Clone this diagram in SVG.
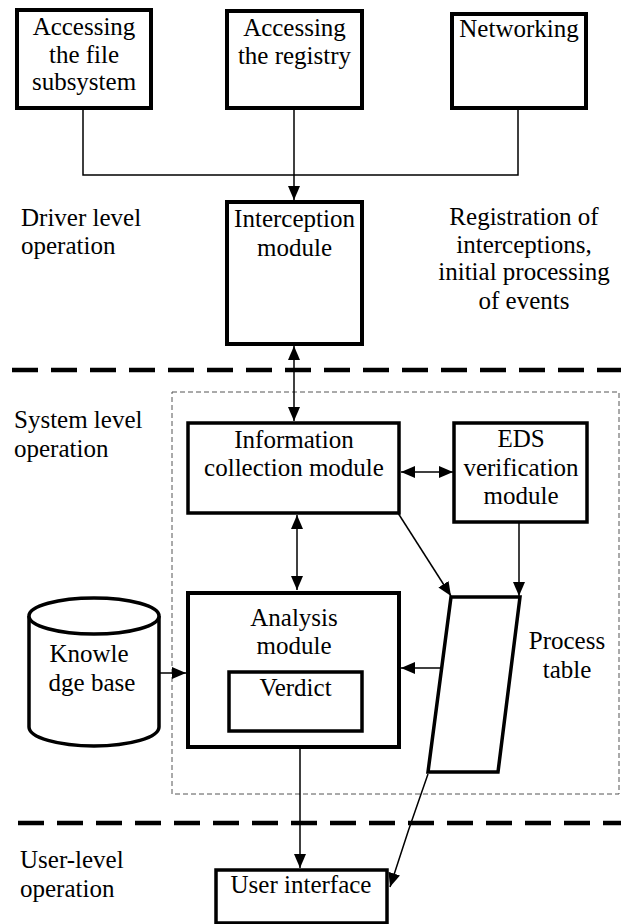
<svg xmlns="http://www.w3.org/2000/svg" width="621" height="924" viewBox="0 0 621 924">
<style>
text{font-family:"Liberation Serif","Times New Roman",serif;font-size:25px;fill:#000}
.c{text-anchor:middle}
.box{fill:#fff;stroke:#000;stroke-width:4}
.box3{fill:#fff;stroke:#000;stroke-width:3.5}
.ln{fill:none;stroke:#000;stroke-width:1.5}
.sep{stroke:#000;stroke-width:4.5;stroke-dasharray:26 13}
</style>
<defs>
<marker id="ah" markerUnits="userSpaceOnUse" markerWidth="14" markerHeight="12" refX="14" refY="6" orient="auto-start-reverse" viewBox="0 0 14 12">
<path d="M0,0 L14,6 L0,12 Z" fill="#000"/>
</marker>
</defs>
<rect x="0" y="0" width="621" height="924" fill="#fff"/>

<g id="separators">
<line class="sep" x1="12" y1="370" x2="621" y2="370"/>
<line class="sep" x1="18" y1="823" x2="621" y2="823"/>
</g>
<g id="system-boundary">
<rect x="172" y="392" width="447" height="402" fill="none" stroke="#555" stroke-width="1" stroke-dasharray="5 3"/>
</g>

<g id="labels">
<text x="21" y="226">Driver level</text>
<text x="21" y="254">operation</text>
<text class="c" x="524" y="225">Registration of</text>
<text class="c" x="524" y="253">interceptions,</text>
<text class="c" x="524" y="280">initial processing</text>
<text class="c" x="524" y="309">of events</text>
<text x="14" y="428">System level</text>
<text x="14" y="457">operation</text>
<text x="20" y="868">User-level</text>
<text x="20" y="897">operation</text>
</g>

<g id="connectors">
<polyline class="ln" points="83,108 83,175 518,175 518,108" stroke="#333"/>
<line class="ln" x1="294" y1="108" x2="294" y2="200" marker-end="url(#ah)"/>
<line class="ln" x1="294" y1="346" x2="294" y2="421" marker-start="url(#ah)" marker-end="url(#ah)"/>
<line class="ln" x1="401" y1="472" x2="453" y2="472" marker-start="url(#ah)" marker-end="url(#ah)"/>
<line class="ln" x1="297" y1="515" x2="297" y2="590" marker-start="url(#ah)" marker-end="url(#ah)"/>
<line class="ln" x1="398" y1="513" x2="451" y2="596" marker-end="url(#ah)"/>
<line class="ln" x1="519" y1="522" x2="519" y2="596" stroke="#333" marker-end="url(#ah)"/>
<line class="ln" x1="145" y1="673" x2="186" y2="673" marker-end="url(#ah)"/>
<line class="ln" x1="445" y1="668" x2="401" y2="668" marker-end="url(#ah)"/>
<line class="ln" x1="300" y1="748" x2="300" y2="868" marker-end="url(#ah)"/>
<path class="ln" d="M428,774 Q408,830 390,887" marker-end="url(#ah)"/>
</g>

<g id="file-subsystem">
<rect class="box" x="17" y="10" width="134" height="98"/>
<text class="c" x="84" y="35">Accessing</text>
<text class="c" x="84" y="63">the file</text>
<text class="c" x="84" y="90">subsystem</text>
</g>
<g id="registry">
<rect class="box" x="227" y="11" width="135" height="97"/>
<text class="c" x="294.5" y="36">Accessing</text>
<text class="c" x="294.5" y="64">the registry</text>
</g>
<g id="networking">
<rect class="box" x="452" y="14" width="134" height="94"/>
<text class="c" x="519" y="37">Networking</text>
</g>
<g id="interception">
<rect class="box" x="227" y="202" width="135" height="142"/>
<text class="c" x="294.5" y="227">Interception</text>
<text class="c" x="294.5" y="256">module</text>
</g>
<g id="info-collection">
<rect class="box3" x="188" y="423" width="211" height="90"/>
<text class="c" x="294" y="448">Information</text>
<text class="c" x="294" y="476">collection module</text>
</g>
<g id="eds">
<rect class="box3" x="454" y="423" width="133" height="99"/>
<text class="c" x="521" y="447">EDS</text>
<text class="c" x="521" y="476">verification</text>
<text class="c" x="521" y="504">module</text>
</g>
<g id="analysis">
<rect class="box" x="188" y="593" width="211" height="154"/>
<text class="c" x="294" y="626">Analysis</text>
<text class="c" x="294" y="654">module</text>
</g>
<g id="verdict">
<rect class="box3" x="229" y="672" width="133" height="59"/>
<text class="c" x="295.5" y="696">Verdict</text>
</g>
<g id="knowledge-base">
<path d="M29,616 L29,727 A65,19 0 0 0 159,727 L159,616" fill="#fff" stroke="#000" stroke-width="3.5"/>
<ellipse cx="94" cy="616" rx="65" ry="18" fill="#fff" stroke="#000" stroke-width="3.5"/>
<text class="c" x="89" y="662">Knowle</text>
<text class="c" x="92" y="691">dge base</text>
</g>
<g id="process-table">
<polygon points="451,597 520,597 498,772 428,772" fill="#fff" stroke="#000" stroke-width="3.5"/>
<text class="c" x="567" y="649">Process</text>
<text class="c" x="567" y="678">table</text>
</g>
<g id="user-interface">
<rect class="box3" x="216" y="870" width="171" height="53"/>
<text class="c" x="301" y="893">User interface</text>
</g>
</svg>
